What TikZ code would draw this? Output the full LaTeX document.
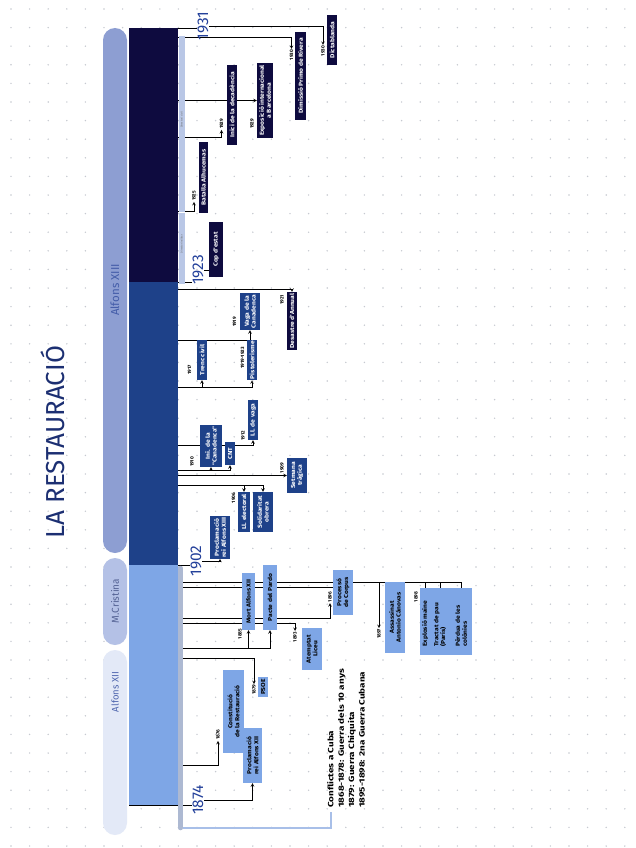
\documentclass[tikz,border=0pt]{standalone}
\usepackage{fontspec}
\setmainfont{Fira Sans}
\newfontfamily\widefont[FakeStretch=1.15]{Fira Sans}
\newfontfamily\cubafont[FakeStretch=1.3]{Fira Sans}
\usetikzlibrary{positioning,calc,arrows}
\definecolor{navy}{HTML}{0E0B3F}
\definecolor{dblue}{HTML}{1E4189}
\definecolor{lblue}{HTML}{7EA6E6}
\definecolor{pillA}{HTML}{8D9ED2}
\definecolor{pillB}{HTML}{B4C1E6}
\definecolor{pillC}{HTML}{E3E9F7}
\definecolor{yearblue}{HTML}{23409A}
\definecolor{titleblue}{HTML}{1C2F72}
\definecolor{strip}{HTML}{B9C7E6}
\definecolor{cuba}{HTML}{A8BFE8}
\definecolor{dotc}{HTML}{C6C9D0}
\pgfdeclarelayer{grid}
\pgfdeclarelayer{lines}
\pgfsetlayers{grid,lines,main}

\tikzstyle{ev} = [rectangle, rotate=90, align=center, inner sep=1pt, font=\widefont\fontsize{5.8}{6.8}\selectfont\bfseries, text=black, fill=lblue]
\tikzstyle{evd} = [ev, fill=dblue, text=white]
\tikzstyle{evn} = [ev, fill=navy, text=white]
\tikzstyle{yr} = [rotate=90, inner sep=0.8pt, font=\fontsize{4.8}{5}\selectfont\bfseries]
\tikzstyle{bigyr} = [rotate=90, inner sep=0.8pt, font=\fontsize{15.5}{15.5}\selectfont, text=yearblue]
\tikzstyle{pill} = [rotate=90, inner sep=0pt]
\tikzstyle{arrow} = [line width=0.55pt,->,>=stealth]
\tikzstyle{tick} = [line width=0.55pt]

\begin{document}
\begin{tikzpicture}[x=1pt,y=-1pt]
\useasboundingbox (0,0) rectangle (636,848);

% dotted paper
\begin{pgfonlayer}{grid}
  \fill[white] (0,0) rectangle (636,848);
  \foreach \i in {0,...,34}
    \foreach \j in {0,...,45}
      \fill[dotc] ({11+\i*18.6},{9+\j*18.6}) circle (0.8);
\end{pgfonlayer}

% title and reigns
\node[rotate=90, font=\fontsize{26}{26}\selectfont, text=titleblue] (title) at (53,442) {LA RESTAURACIÓ};
\fill[pillA, rounded corners=12pt] (103,28) rectangle (127,553);
\fill[pillB, rounded corners=12pt] (103,558) rectangle (127,645);
\fill[pillC, rounded corners=12pt] (103,650) rectangle (127,835);
\node[pill, font=\fontsize{11.5}{11.5}\selectfont, text=yearblue!85] (palf13) at (115,290) {Alfons XIII};
\node[pill, font=\fontsize{10}{10}\selectfont, text=titleblue!75] (pcris) at (115,601) {M.Cristina};
\node[pill, font=\fontsize{9.5}{9.5}\selectfont, text=yearblue!80] (palf12) at (115,692) {Alfons XII};

% time bar
\fill[navy]  (129,28) rectangle (178,282);
\fill[dblue] (129,282) rectangle (178,565);
\fill[lblue] (129,565) rectangle (178,805);
\fill[strip] (178.5,36) rectangle (184.5,284);
\draw[white, line width=0.4pt] (178.5,212) -- (184.5,212);
\node[rotate=90, inner sep=0pt, font=\fontsize{2.6}{3}\selectfont, text=black!60] (dcivil) at (181.5,120) {Directori civil};
\node[rotate=90, inner sep=0pt, font=\fontsize{2.6}{3}\selectfont, text=black!60] (dmilit) at (181.5,244) {Directori militar};
\draw[strip!80!gray, line width=4.5pt, line cap=round] (180.5,568) -- (180.5,828);
\draw[cuba, line width=1.2pt] (183,828) -- (331,828) -- (331,812);

% big years
\node[bigyr] (y1931) at (203,26)  {1931};
\node[bigyr] (y1923) at (198,270) {1923};
\node[bigyr] (y1902) at (196,561) {1902};
\node[bigyr] (y1874) at (198,800) {1874};

% Alfons XII and M. Cristina
\node[ev, minimum width=55pt, minimum height=19pt] (procl12) at (252.5,755.5) {Proclamació\\rei Alfons XII};
\node[ev, minimum width=83pt, minimum height=21pt] (const)   at (233.5,711.5) {Constitució\\de la Restauració};
\node[ev, minimum width=20pt, minimum height=10pt] (psoe)    at (263,687)     {PSOE};
\node[ev, minimum width=57pt, minimum height=13pt] (mort)    at (248.5,601.5) {Mort Alfons XII};
\node[ev, minimum width=65pt, minimum height=14pt] (pacte)   at (270,597.5)   {Pacte del Pardo};
\node[ev, minimum width=42pt, minimum height=20pt] (liceu)   at (312,649)     {Atemptat\\Liceu};
\node[ev, minimum width=45pt, minimum height=20pt] (corpus)  at (343,592.5)   {Processó\\de Corpus};
\node[ev, minimum width=71pt, minimum height=20pt] (canovas) at (395,617.5)   {Assassinat\\Antonio Cánovas};
\node[ev, minimum width=67pt, minimum height=52pt] (b1898)   at (446,621.5)   {};
\node[ev, fill=none, anchor=west, align=left] (maine1) at (425,648) {Explosió maine};
\node[ev, fill=none, anchor=west, align=left] (maine2) at (440,648) {Tractat de pau\\(París)};
\node[ev, fill=none, anchor=west, align=left] (maine3) at (461,648) {Pèrdua de les\\colònies};

\node[yr] (y1876) at (218,735)   {1876};
\node[yr] (y1879) at (254,690)   {1879};
\node[yr] (y1885) at (240,634)   {1885};
\node[yr] (y1893) at (295,637)   {1893};
\node[yr] (y1896) at (330,597)   {1896};
\node[yr] (y1897) at (379,634)   {1897};
\node[yr] (y1898) at (416,597)   {1898};

\node[rotate=90, anchor=north west, align=left, inner sep=0pt, font=\cubafont\fontsize{7.6}{10.4}\selectfont\bfseries] (cuba) at (327,808)
  {Conflictes a Cuba\\1868-1878: Guerra dels 10 anys\\1879: Guerra Chiquita\\1895-1898: 2na Guerra Cubana};

% Alfons XIII
\node[evd, minimum width=41pt, minimum height=20pt] (procl13) at (220,537.5) {Proclamació\\rei Alfons XIII};
\node[evd, minimum width=40pt, minimum height=12pt] (llelect) at (244,512)   {Ll. electoral};
\node[evd, minimum width=40pt, minimum height=20pt] (solid)   at (263,512)   {Solidaritat\\obrera};
\node[evd, minimum width=35pt, minimum height=20pt] (setmana) at (297,475.5) {Setmana\\tràgica};
\node[evd, minimum width=42pt, minimum height=22pt] (canad1)  at (211,446)   {Ini. de la\\"Canadenca"};
\node[evd, minimum width=23pt, minimum height=10pt] (cnt)     at (230,453.5) {CNT};
\node[evd, minimum width=40pt, minimum height=10pt] (llvaga)  at (253,420)   {Ll. de vaga};
\node[evd, minimum width=40pt, minimum height=10pt] (trenc)   at (202,360)   {Trenc civil};
\node[evd, minimum width=40pt, minimum height=10pt] (pistol)  at (252,360)   {Pistolerisme};
\node[evd, minimum width=37pt, minimum height=20pt] (vagacan) at (250,311.5) {Vaga de la\\Canadenca};
\node[evn, minimum width=58pt, minimum height=10pt] (annual)  at (292,321)   {Desastre d'Annual};

\node[yr] (y1906)  at (233.5,498) {1906};
\node[yr] (y1909)  at (282,468)   {1909};
\node[yr] (y1910)  at (192,462)   {1910};
\node[yr] (y1912)  at (243,436)   {1912};
\node[yr] (y1917)  at (189.5,370) {1917};
\node[yr] (y1919b) at (242.5,358) {1919-1923};
\node[yr] (y1919)  at (234.5,322) {1919};
\node[yr] (y1921)  at (282,300)   {1921};

% dictadura
\node[evn, minimum width=55pt, minimum height=14pt] (cop)    at (216,249.5) {Cop d'estat};
\node[evn, minimum width=71pt, minimum height=9pt]  (alhuc)  at (203.5,177.5) {Batalla Alhucemas};
\node[evn, minimum width=80pt, minimum height=10pt] (decad)  at (232,105)   {Inici de la decadència};
\node[evn, minimum width=75pt, minimum height=16pt] (expo)   at (265,100.5) {Exposició internacional\\a Barcelona};
\node[evn, minimum width=88pt, minimum height=11pt] (dimis)  at (300.5,76)  {Dimissió Primo de Rivera};
\node[evn, minimum width=50pt, minimum height=10pt] (dictab) at (332,40)    {Dictablanda};

\node[yr] (y1925)  at (194,196)   {1925};
\node[yr] (y1929a) at (221.5,124) {1929};
\node[yr] (y1929b) at (252,124)   {1929};
\node[yr] (y1930a) at (291.5,55)  {1930};
\node[yr] (y1930b) at (323,51)    {1930};

% points on the bar
\coordinate (t1876)  at (178,765);
\coordinate (t1879)  at (178,658);
\coordinate (t1885)  at (178,648);
\coordinate (t1893)  at (178,623);
\coordinate (t1896)  at (178,618);
\coordinate (t1896b) at (178,587);
\coordinate (t1897)  at (178,582);
\coordinate (t1906)  at (178,485);
\coordinate (t1909)  at (178,475.5);
\coordinate (t1910)  at (178,470);
\coordinate (t1912)  at (178,445);
\coordinate (t1917)  at (178,387);
\coordinate (t1919)  at (178,340);
\coordinate (t1921)  at (178,289);
\coordinate (t1925)  at (178,211);
\coordinate (t1929a) at (178,137);
\coordinate (t1929b) at (178,100.5);
\coordinate (t1930)  at (178,37);
\coordinate (b1931)  at (178,28);
\coordinate (b1923)  at (178,282);
\coordinate (b1902)  at (178,565);
\coordinate (b1874)  at (129,805);

\begin{pgfonlayer}{lines}
  \draw[tick] (b1931) -- (b1931 -| y1931.north);
  \draw[tick] (b1923) -- (b1923 -| y1923.north);
  \draw[tick] (b1902) -- (b1902 -| y1902.north);
  \draw[tick] (b1874) -- (b1874 -| y1874.north);

  \draw[arrow] (y1874.south) -| (procl12.west);
  \draw[arrow] (t1876) -| (y1876.west);
  \draw[arrow] (t1879) -| (y1879.east);
  \draw[arrow] (t1885) -| (mort.west);
  \draw[arrow] (t1885) -| (pacte.west);
  \draw[arrow] (t1893) -| (y1893.east);
  \draw[arrow] (t1896) -| (y1896.west);
  \draw[tick]  (t1896b) -- (t1896b -| corpus.north);
  \draw[arrow] (t1897) -| (y1897.east);
  \draw[arrow] (t1897) -| (maine1.east);
  \draw[arrow] (t1897) -| (maine2.east);
  \draw[arrow] (t1897) -| (maine3.east);

  \draw[arrow] (y1902.south) -| (procl13.west);
  \draw[arrow] (t1906) -| (llelect.east);
  \draw[arrow] (t1906) -| (solid.east);
  \draw[arrow] (t1909) -- (setmana.north);
  \draw[arrow] (t1910) -| (canad1.west);
  \draw[arrow] (t1910) -| (cnt.west);
  \draw[arrow] (t1912) -| (llvaga.west);
  \draw[arrow] (t1917) -| (trenc.west);
  \draw[arrow] (t1917) -| (pistol.west);
  \draw[arrow] (t1919) -| (vagacan.west);
  \draw[arrow] (t1921) -| (annual.east);

  \draw[arrow] (y1923.south) -| (cop.west);
  \draw[arrow] (t1925) -| (y1925.west);
  \draw[arrow] (t1929a) -| (y1929a.west);
  \draw[arrow] (t1929b) -- (expo.north);
  \draw[arrow] (t1930) -| (y1930a.east);
  \draw[arrow] (y1931.south) -| (y1930b.east);
\end{pgfonlayer}

\end{tikzpicture}
\end{document}
